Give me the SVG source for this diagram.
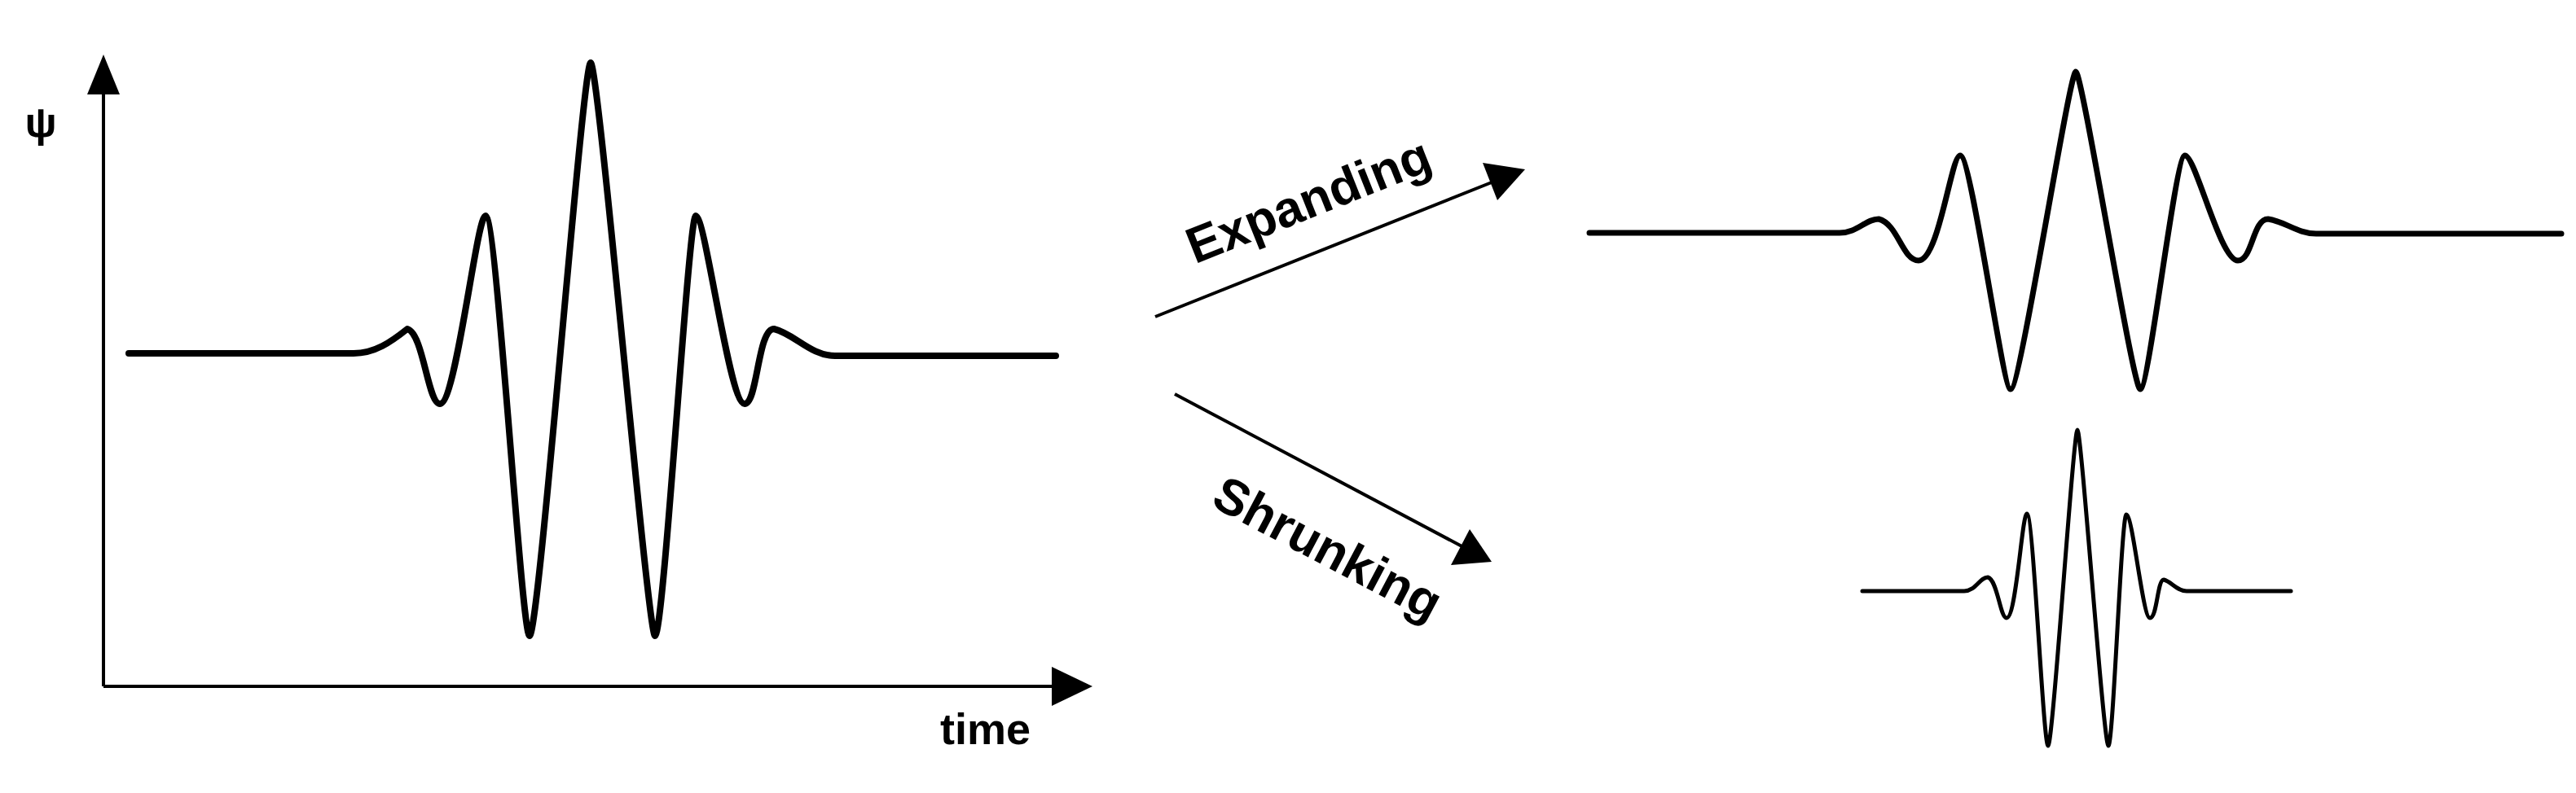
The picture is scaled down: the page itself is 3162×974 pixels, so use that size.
<svg xmlns="http://www.w3.org/2000/svg" width="3162" height="974" viewBox="0 0 3162 974">
<style>
.w{fill:none;stroke:#000;stroke-linejoin:round;stroke-linecap:round}
.ax{stroke:#000;stroke-width:4;fill:none}
.t{font-family:"Liberation Sans",Arial,sans-serif;font-weight:bold;fill:#000}
</style>
<rect width="3162" height="974" fill="#fff"/>
<g id="axes">
<path class="ax" d="M127 843V110M127 843H1295"/>
<polygon points="127,67 107,116 147,116"/>
<polygon points="1341,843 1291,819 1291,867"/>
<text x="50" y="168" class="t" font-size="52" text-anchor="middle">ψ</text>
<text x="1154" y="914" class="t" font-size="54">time</text>
</g>
<g id="wavelet-original">
<path class="w" stroke-width="8" d="M158 434H434C460 434 480 420 500 404C520 410 525 496 540 496C560 496 585 265 596 265C610 265 640 781 650 781C662 781 715 77 725 77C735 77 795 781 804 781C815 781 845 265 854 265C866 265 895 496 914 496C930 496 930 404 950 404C975 410 995 437 1025 437H1296"/>
</g>
<g id="wavelet-expanded">
<path class="w" stroke-width="7" d="M1951 286H2258C2280 286 2290 269 2306 269C2330 275 2335 320 2355 320C2380 320 2395 191 2406 191C2420 191 2458 478 2468 478C2480 478 2540 88 2548 88C2556 88 2618 478 2627 478C2638 478 2670 191 2682 191C2695 191 2725 320 2747 320C2765 320 2765 269 2784 269C2805 272 2820 287 2843 287H3144"/>
</g>
<g id="wavelet-shrunk">
<path class="w" stroke-width="5" d="M2286 726H2411C2425 726 2430 709 2440 709C2452 712 2455 759 2463 759C2475 759 2482 631 2488 631C2496 631 2508 916 2514 916C2520 916 2545 528 2550 528C2555 528 2582 916 2588 916C2594 916 2604 632 2610 632C2618 632 2630 759 2639 759C2648 759 2648 712 2656 712C2665 714 2672 726 2684 726H2812"/>
</g>
<g id="connectors">
<line x1="1418" y1="389" x2="1836" y2="222" stroke="#000" stroke-width="4"/>
<polygon points="1872,208 1820,200 1838,246"/>
<line x1="1442" y1="484" x2="1800" y2="674" stroke="#000" stroke-width="4"/>
<polygon points="1831,690 1804,650 1781,694"/>
<text class="t" font-size="62" text-anchor="middle" transform="translate(1614,266) rotate(-21.7)">Expanding</text>
<text class="t" font-size="62" text-anchor="middle" transform="translate(1620,692) rotate(27.9)">Shrunking</text>
</g>
</svg>
